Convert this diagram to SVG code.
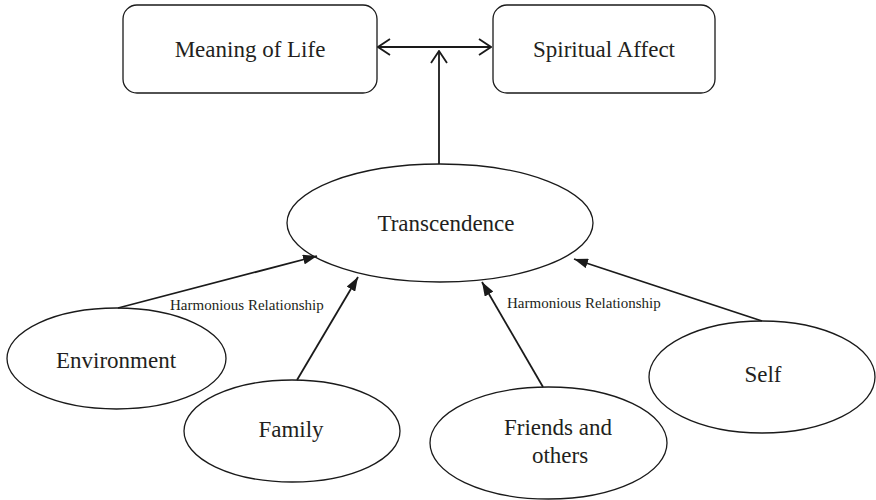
<svg xmlns="http://www.w3.org/2000/svg" width="876" height="500" viewBox="0 0 876 500">
<style>
.shape{fill:#fff;stroke:#1a1a1a;stroke-width:1.3}
.t{font-family:"Liberation Serif","Times New Roman",serif;font-size:23px;fill:#231f20;text-anchor:middle}
.lbl{font-family:"Liberation Serif","Times New Roman",serif;font-size:15px;fill:#231f20}
.c{fill:none;stroke:#1a1a1a;stroke-width:1.8}
</style>
<defs>
<marker id="tri" viewBox="0 0 14 10" refX="14" refY="5" markerWidth="14" markerHeight="10" markerUnits="userSpaceOnUse" orient="auto">
<path d="M0,0 L14,5 L0,10 z" fill="#1a1a1a"/>
</marker>
<marker id="open" viewBox="0 0 14 18" refX="13" refY="9" markerWidth="14" markerHeight="18" markerUnits="userSpaceOnUse" orient="auto-start-reverse">
<path d="M1,1 L13,9 L1,17" fill="none" stroke="#1a1a1a" stroke-width="1.8"/>
</marker>
</defs>
<rect width="876" height="500" fill="#fff"/>
<g id="meaning"><rect class="shape" x="123" y="5" width="254" height="88" rx="14"/><text class="t" x="250" y="57">Meaning of Life</text></g>
<g id="spiritual"><rect class="shape" x="493" y="5" width="222" height="88" rx="14"/><text class="t" x="604" y="57">Spiritual Affect</text></g>
<g id="transcendence"><ellipse class="shape" cx="440" cy="223" rx="153" ry="59"/><text class="t" x="446" y="231">Transcendence</text></g>
<g id="environment"><ellipse class="shape" cx="116.5" cy="358.5" rx="109.5" ry="50.5"/><text class="t" x="116" y="368">Environment</text></g>
<g id="family"><ellipse class="shape" cx="292" cy="431" rx="108" ry="51"/><text class="t" x="291" y="437">Family</text></g>
<g id="friends"><ellipse class="shape" cx="548.5" cy="443" rx="118.5" ry="56"/><text class="t" x="558" y="435">Friends and</text><text class="t" x="560" y="463">others</text></g>
<g id="self"><ellipse class="shape" cx="762" cy="377" rx="113" ry="56"/><text class="t" x="763" y="382">Self</text></g>
<g id="connectors">
<line class="c" x1="378" y1="47" x2="491" y2="47" marker-start="url(#open)" marker-end="url(#open)"/>
<line class="c" x1="439" y1="164" x2="439" y2="51" marker-end="url(#open)"/>
<line class="c" x1="118" y1="308" x2="317" y2="256" marker-end="url(#tri)"/>
<line class="c" x1="297" y1="380" x2="358" y2="277" marker-end="url(#tri)"/>
<line class="c" x1="543" y1="387" x2="482" y2="282" marker-end="url(#tri)"/>
<line class="c" x1="762" y1="321" x2="574" y2="259" marker-end="url(#tri)"/>
<text class="lbl" x="170" y="310">Harmonious Relationship</text>
<text class="lbl" x="507" y="308">Harmonious Relationship</text>
</g>
</svg>
